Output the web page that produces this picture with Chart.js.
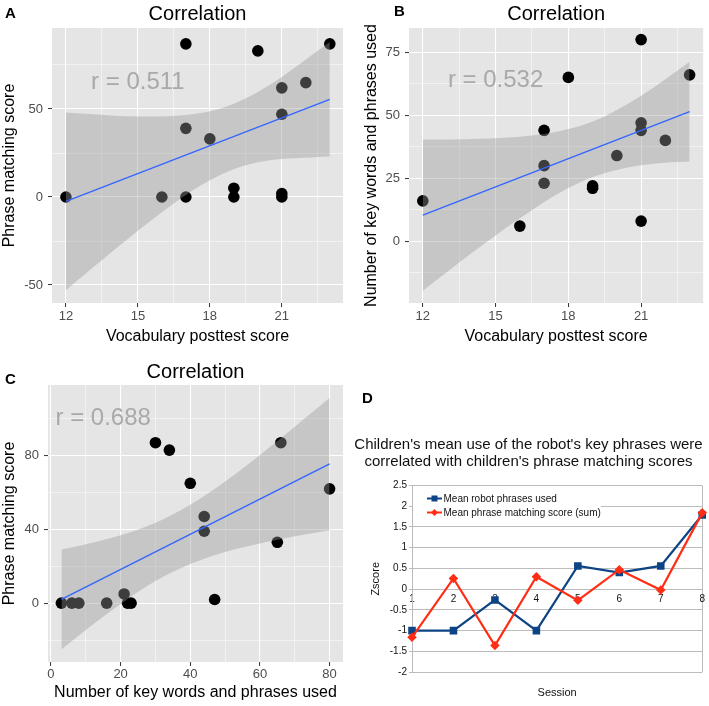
<!DOCTYPE html>
<html>
<head>
<meta charset="utf-8">
<title>Correlation</title>
<script src="https://cdn.jsdelivr.net/npm/chart.js@4.4.1/dist/chart.umd.min.js"></script>
<style>
  body { margin: 0; background: #fff; }
  #page { position: relative; width: 709px; height: 706px; overflow: hidden; font-family: "Liberation Sans", Arial, sans-serif; }
  .box { position: absolute; }
  .tag { position: absolute; font-size: 15px; line-height: 15px; font-weight: bold; color: #000; }
</style>
</head>
<body>
<div id="page">
  <div class="box" style="left:0;top:0;width:354px;height:346px"><canvas id="chartA"></canvas></div>
  <div class="box" style="left:354px;top:0;width:355px;height:346px"><canvas id="chartB"></canvas></div>
  <div class="box" style="left:0;top:346px;width:354px;height:360px"><canvas id="chartC"></canvas></div>
  <div class="box" style="left:354px;top:380px;width:355px;height:326px"><canvas id="chartD"></canvas></div>
  <div class="tag" style="left:5px;top:5px">A</div>
  <div class="tag" style="left:394px;top:3px">B</div>
  <div class="tag" style="left:5px;top:371px">C</div>
  <div class="tag" style="left:362px;top:390px">D</div>
</div>
<script>
const FONT = '"Liberation Sans", Arial, Helvetica, sans-serif';

// A: vocabulary posttest vs phrase matching
const vocabA = [12, 16, 17, 17, 17, 18, 19, 19, 20, 21, 21, 21, 21, 22, 23];
const matchA = [0, 0, 87, 39, 0, 33, 5, 0, 83, 62, 47, 2, 0, 65, 87];
const bandXA = [12, 13, 14, 15, 16, 17, 18, 19, 20, 21, 22, 23];
const lowA = [-53, -41.5, -30.2, -19.2, -8.6, 1.2, 9.5, 15.8, 19.7, 21.6, 22.3, 23];
const highA = [48, 47.1, 46.2, 45.8, 45.8, 46.6, 48.7, 53, 59.7, 68.2, 78.1, 88];
const fitXA = [12, 23];
const fitYA = [-2.5, 55.5];
const ticksXA = [12, 15, 18, 21];
const ticksYA = [-50, 0, 50];

// B: vocabulary posttest vs key words used
const vocabB = [12, 16, 17, 17, 17, 18, 19, 19, 20, 21, 21, 21, 21, 22, 23];
const wordsB = [16, 6, 44, 30, 23, 65, 22, 21, 34, 80, 47, 44, 8, 40, 66];
const bandXB = [12, 13, 14, 15, 16, 17, 18, 19, 20, 21, 22, 23];
const lowB = [-19.6, -12.2, -4.8, 2.3, 9.1, 15.5, 21.1, 25.5, 28.3, 30.1, 31.1, 31.6];
const highB = [40.4, 40.4, 40.6, 40.9, 41.5, 42.5, 44.5, 47.5, 52.1, 57.7, 64.3, 71.2];
const fitXB = [12, 23];
const fitYB = [10.4, 51.4];
const ticksXB = [12, 15, 18, 21];
const ticksYB = [0, 25, 50, 75];

// C: key words used vs phrase matching
const wordsC = [3, 6, 8, 16, 21, 22, 23, 30, 34, 40, 44, 44, 47, 65, 66, 80];
const matchC = [0, 0, 0, 0, 5, 0, 0, 87, 83, 65, 47, 39, 2, 33, 87, 62];
const bandXC = [3, 10, 20, 30, 40, 50, 60, 70, 80];
const lowC = [-25.1, -14.5, -0.4, 12, 21.2, 27.8, 32.4, 36.3, 39.6];
const highC = [29.1, 31.9, 36.8, 43.6, 53.4, 66, 80.4, 95.7, 111.4];
const fitXC = [3, 80];
const fitYC = [2, 75.5];
const ticksXC = [0, 20, 40, 60, 80];
const ticksYC = [0, 40, 80];

// D: z-scores per session
const sessions = ['1', '2', '3', '4', '5', '6', '7', '8'];
const robotPhrases = [-1, -1, -0.26, -1, 0.56, 0.4, 0.56, 1.79];
const phraseMatch = [-1.16, 0.26, -1.36, 0.3, -0.27, 0.47, -0.02, 1.84];

const pts = (xs, ys) => xs.map((x, i) => ({ x: x, y: ys[i] }));

const panelBg = {
    id: 'panelBg',
    beforeDraw(chart, args, opts) {
        const a = chart.chartArea;
        chart.ctx.save();
        chart.ctx.fillStyle = opts.color;
        chart.ctx.fillRect(a.left, a.top, a.right - a.left, a.bottom - a.top);
        chart.ctx.restore();
    }
};

const rLabel = {
    id: 'rLabel',
    afterDatasetsDraw(chart, args, opts) {
        const ctx = chart.ctx;
        ctx.save();
        ctx.font = '24px ' + FONT;
        ctx.fillStyle = '#a9a9a9';
        ctx.textAlign = 'center';
        ctx.textBaseline = 'middle';
        ctx.fillText(opts.text, chart.scales.x.getPixelForValue(opts.x), chart.scales.y.getPixelForValue(opts.y));
        ctx.restore();
    }
};

function ggAxis(min, max, major, title, size, tickPad, titlePad) {
    const step = major[1] - major[0];
    const all = major.slice();
    for (let v = major[0] - step / 2; v >= min; v -= step) all.push(v);
    for (let v = major[0] + step / 2; v <= max; v += step) all.push(v);
    all.sort((a, b) => a - b);
    const isMajor = v => major.includes(v);
    return {
        type: 'linear',
        min: min,
        max: max,
        afterBuildTicks: s => { s.ticks = all.map(v => ({ value: v })); },
        afterFit: s => { if (s.isHorizontal()) s.height = size; else s.width = size; },
        border: { display: false },
        grid: {
            color: '#fff',
            lineWidth: c => (c.tick && isMajor(c.tick.value)) ? 1.1 : 0.5,
            tickColor: c => (c.tick && isMajor(c.tick.value)) ? '#333' : 'rgba(0,0,0,0)',
            tickWidth: 1,
            tickLength: 4
        },
        ticks: {
            color: '#4d4d4d',
            font: { family: FONT, size: 13 },
            padding: tickPad,
            autoSkip: false,
            maxRotation: 0,
            callback: v => isMajor(v) ? String(v) : ''
        },
        title: {
            display: true,
            text: title,
            color: '#000',
            font: { family: FONT, size: 16 },
            padding: { top: titlePad, bottom: 0 }
        }
    };
}

function ggPanel(id, c) {
    return new Chart(document.getElementById(id), {
        type: 'scatter',
        data: {
            datasets: [
                { data: pts(c.x, c.y), backgroundColor: '#000', borderWidth: 0, pointRadius: 5.8, order: 3 },
                { type: 'line', data: pts(c.bandX, c.low), borderColor: 'rgba(0,0,0,0)', borderWidth: 0, pointRadius: 0, fill: false, tension: 0.35, order: 2 },
                { type: 'line', data: pts(c.bandX, c.high), borderColor: 'rgba(0,0,0,0)', borderWidth: 0, pointRadius: 0, fill: '-1', backgroundColor: 'rgba(153,153,153,0.4)', tension: 0.35, order: 2 },
                { type: 'line', data: pts(c.fitX, c.fitY), borderColor: '#3366ff', borderWidth: 1.4, pointRadius: 0, fill: false, order: 1 }
            ]
        },
        options: {
            animation: false,
            responsive: true,
            maintainAspectRatio: false,
            events: [],
            layout: { padding: { top: 0, right: c.padR, bottom: c.padB, left: 0 } },
            plugins: {
                legend: { display: false },
                tooltip: { enabled: false },
                title: {
                    display: true,
                    fullSize: false,
                    text: 'Correlation',
                    color: '#000',
                    font: { family: FONT, size: 20, weight: 'normal', lineHeight: 1.2 },
                    padding: { top: c.titleTop, bottom: c.titleBottom }
                },
                panelBg: { color: '#e5e5e5' },
                rLabel: { text: c.r, x: c.rx, y: c.ry }
            },
            scales: {
                x: ggAxis(c.xMin, c.xMax, c.xMajor, c.xTitle, c.xSize, c.xPad, 0),
                y: ggAxis(c.yMin, c.yMax, c.yMajor, c.yTitle, c.ySize, 5, c.yTitlePad)
            }
        },
        plugins: [panelBg, rLabel]
    });
}

ggPanel('chartA', {
    x: vocabA, y: matchA, bandX: bandXA, low: lowA, high: highA, fitX: fitXA, fitY: fitYA,
    xMin: 11.42, xMax: 23.55, xMajor: ticksXA, yMin: -60.2, yMax: 96, yMajor: ticksYA,
    xTitle: 'Vocabulary posttest score', yTitle: 'Phrase matching score',
    xSize: 43, ySize: 52, xPad: 2, yTitlePad: 0, padR: 11, padB: 0, titleTop: 2, titleBottom: 2,
    r: 'r = 0.511', rx: 15, ry: 65
});

ggPanel('chartB', {
    x: vocabB, y: wordsB, bandX: bandXB, low: lowB, high: highB, fitX: fitXB, fitY: fitYB,
    xMin: 11.43, xMax: 23.56, xMajor: ticksXB, yMin: -24.5, yMax: 84.6, yMajor: ticksYB,
    xTitle: 'Vocabulary posttest score', yTitle: 'Number of key words and phrases used',
    xSize: 43, ySize: 55, xPad: 2, yTitlePad: 8, padR: 3, padB: 0, titleTop: 2, titleBottom: 2,
    r: 'r = 0.532', rx: 15, ry: 64
});

ggPanel('chartC', {
    x: wordsC, y: matchC, bandX: bandXC, low: lowC, high: highC, fitX: fitXC, fitY: fitYC,
    xMin: -0.85, xMax: 83.85, xMajor: ticksXC, yMin: -31.9, yMax: 118.3, yMajor: ticksYC,
    xTitle: 'Number of key words and phrases used', yTitle: 'Phrase matching score',
    xSize: 40, ySize: 48, xPad: 1, yTitlePad: 0, padR: 11, padB: 4, titleTop: 14, titleBottom: 1,
    r: 'r = 0.688', rx: 15, ry: 100
});

// Panel D (spreadsheet style line chart)
const BLUE = '#0d4485';
const RED = '#ff2d16';
const GRID = '#bcbcbc';

// legend drawn inside the plot, on a white patch, like the spreadsheet export
const boxLegend = {
    id: 'boxLegend',
    afterDatasetsDraw(chart) {
        const a = chart.chartArea;
        const ctx = chart.ctx;
        ctx.save();
        ctx.fillStyle = '#fff';
        ctx.fillRect(a.left + 1, a.top + 4, 188, 28);
        chart.data.datasets.forEach((ds, i) => {
            const y = a.top + 13 + i * 14;
            ctx.strokeStyle = ds.borderColor;
            ctx.fillStyle = ds.borderColor;
            ctx.lineWidth = 2;
            ctx.beginPath();
            ctx.moveTo(a.left + 15, y);
            ctx.lineTo(a.left + 30, y);
            ctx.stroke();
            const mx = a.left + 22.5;
            if (ds.pointStyle === 'rectRot') {
                ctx.beginPath();
                ctx.moveTo(mx, y - 3.5); ctx.lineTo(mx + 3.5, y); ctx.lineTo(mx, y + 3.5); ctx.lineTo(mx - 3.5, y);
                ctx.closePath();
                ctx.fill();
            } else {
                ctx.fillRect(mx - 3, y - 3, 6, 6);
            }
            ctx.fillStyle = '#111';
            ctx.font = '10px ' + FONT;
            ctx.textBaseline = 'middle';
            ctx.fillText(ds.label, a.left + 31.5, y + 0.5);
        });
        ctx.restore();
    }
};

new Chart(document.getElementById('chartD'), {
    type: 'line',
    data: {
        labels: sessions,
        datasets: [
            { label: 'Mean robot phrases used', data: robotPhrases, borderColor: BLUE, backgroundColor: BLUE, borderWidth: 2.2, pointStyle: 'rect', pointRadius: 3.8, order: 2 },
            { label: 'Mean phrase matching score (sum)', data: phraseMatch, borderColor: RED, backgroundColor: RED, borderWidth: 2.2, pointStyle: 'rectRot', pointRadius: 3.2, order: 1 }
        ]
    },
    options: {
        animation: false,
        responsive: true,
        maintainAspectRatio: false,
        events: [],
        layout: { padding: { top: 0, right: 6, bottom: 0, left: 0 } },
        plugins: {
            title: {
                display: true,
                text: ["Children's mean use of the robot's key phrases were", "correlated with children's phrase matching scores"],
                color: '#111',
                font: { family: FONT, size: 15, weight: 'normal', lineHeight: 1.15 },
                padding: { top: 56, bottom: 15 }
            },
            subtitle: {
                display: true,
                position: 'bottom',
                fullSize: false,
                text: 'Session',
                color: '#111',
                font: { family: FONT, size: 11 },
                padding: { top: 14, bottom: 6.7 }
            },
            legend: { display: false },
            tooltip: { enabled: false }
        },
        scales: {
            x: {
                position: { y: 0 },
                offset: false,
                border: { display: false },
                grid: { color: c => c.index === sessions.length - 1 ? GRID : 'rgba(0,0,0,0)', drawTicks: false },
                ticks: { color: '#111', font: { family: FONT, size: 10 }, padding: 4, maxRotation: 0, autoSkip: false }
            },
            y: {
                min: -2,
                max: 2.5,
                afterFit: s => { s.width = 58; },
                border: { display: true, color: GRID },
                grid: { color: GRID, tickColor: GRID, tickLength: 3 },
                ticks: { stepSize: 0.5, color: '#111', font: { family: FONT, size: 10 }, padding: 2, callback: v => String(v) },
                title: { display: true, text: 'Zscore', color: '#111', font: { family: FONT, size: 11 }, padding: { top: 15, bottom: 0 } }
            }
        }
    },
    plugins: [boxLegend]
});
</script>
</body>
</html>
